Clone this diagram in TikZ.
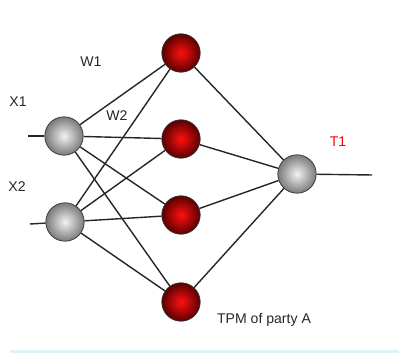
\documentclass[tikz,border=0pt]{standalone}
\usepackage{fontspec}
\setmainfont{Liberation Sans}
\usepackage{xcolor}
\definecolor{ballred}{HTML}{FF1010}
\definecolor{darkred}{HTML}{5A0000}
\definecolor{ballgray}{HTML}{F2F2F2}
\definecolor{edgegray}{HTML}{7A7A7A}
\definecolor{footer}{HTML}{DDF3F8}
\definecolor{labeltext}{HTML}{262626}

\begin{document}
\begin{tikzpicture}[x=0.025cm,y=0.025cm,
		neuron/.style={circle,draw=black!80,line width=0.5pt,minimum size=0.96cm,inner sep=0pt},
		hidden/.style={neuron,inner color=ballred,outer color=darkred},
		outer/.style={neuron,inner color=ballgray,outer color=edgegray},
		link/.style={line width=1pt,color=black!85},
		tag/.style={font=\fontsize{10}{12}\selectfont,text=labeltext,inner sep=0pt}]
		%
		\useasboundingbox (0,0) rectangle (399,353);
		\fill [footer] (10,0) rectangle (399,3);
		%
		\begin{scope}
			% input layer
			\node [outer] (x1) at (64,217) {};
			\node [outer] (x2) at (65,131) {};
			\coordinate (in1) at (28,217);
			\coordinate (in2) at (30,129);
			%
			% tree parity machine
			\node [hidden] (h1) at (181,300) {};
			\node [hidden] (h2) at (181,214) {};
			\node [hidden] (h3) at (181,138) {};
			\node [hidden] (h4) at (181,51) {};
			%
			% output
			\node [outer] (t1) at (297,179) {};
			\coordinate (out) at (372,178);
			%
			\foreach \i in {x1,x2} {
				\foreach \j in {h1,h2,h3,h4}
					\draw [link] (\i) -- (\j);
			}
			\foreach \j in {h1,h2,h3,h4}
				\draw [link] (\j) -- (t1);
			\draw [link] (in1) -- (x1);
			\draw [link] (in2) -- (x2);
			\draw [link] (t1) -- (out);
			%
			\node [tag] (lx1) at (18,251) {X1};
			\node [tag] (lx2) at (17,166) {X2};
			\node [tag] (lw1) at (91,291) {W1};
			\node [tag,fill=white,inner sep=0.5pt] (lw2) at (117,237) {W2};
			\node [tag,text=red] (lt1) at (338,211) {T1};
			\node [tag] (lpm) at (264,33) {TPM of party A};
		\end{scope}
		%
	\end{tikzpicture}
\end{document}
